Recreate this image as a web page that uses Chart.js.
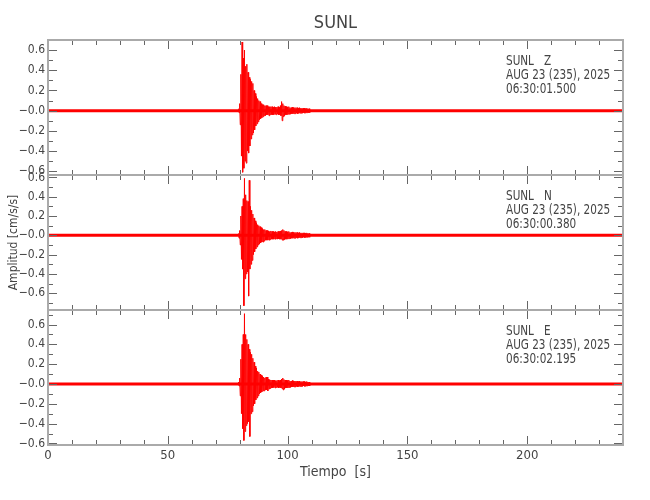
<!DOCTYPE html>
<html>
<head>
<meta charset="utf-8">
<script src="https://cdn.jsdelivr.net/npm/chart.js@4.4.0/dist/chart.umd.min.js"></script>
<style>
    html, body { margin: 0; padding: 0; background: #fff; }
    #wrap { width: 650px; height: 500px; }
</style>
</head>
<body>
<div id="wrap"><canvas id="seisChart"></canvas></div>
<script>
// station / labels
var station = "SUNL";
var components = ["Z", "N", "E"];
var dateLine = "AUG 23 (235), 2025";
var startTimes = ["06:30:01.500", "06:30:00.380", "06:30:02.195"];

// axis ranges (top panel first)
var panelMin = [-0.637, -0.774, -0.616];
var panelMax = [0.70, 0.625, 0.747];
var timeMin = 0;
var timeMax = 240;

var yTickValues = [-0.6, -0.4, -0.2, 0, 0.2, 0.4, 0.6];
var yTickLabels = ["\u22120.6", "\u22120.4", "\u22120.2", "\u22120.0", "0.2", "0.4", "0.6"];

// background noise floor
var baseTimes = [0, 240];
var baseValues = [0, 0];

// event window, one sample every 0.25 s from 79.5 s
var eventStart = 79.5;
var sampleStep = 0.25;

var traceZ = [
    0.02, -0.02, 0.07, -0.14, 0.36, -0.45, 0.68, -0.61,
    0.52, -0.57, 0.6, -0.5, 0.44, -0.52, 0.46, -0.4,
    0.38, -0.42, 0.33, -0.35, 0.31, -0.28, 0.29, -0.24,
    0.27, -0.22, 0.2, -0.19, 0.17, -0.15, 0.14, -0.13,
    0.12, -0.11, 0.1, -0.09, 0.09, -0.08, 0.07, -0.07,
    0.06, -0.06, 0.06, -0.05, 0.05, -0.05, 0.05, -0.04,
    0.05, -0.04, 0.04, -0.05, 0.04, -0.04, 0.04, -0.04,
    0.04, -0.04, 0.035, -0.04, 0.04, -0.035, 0.035, -0.04,
    0.035, -0.035, 0.04, -0.04, 0.035, -0.04, 0.05, -0.05,
    0.09, -0.1, 0.07, -0.06, 0.05, -0.05, 0.045, -0.04,
    0.04, -0.04, 0.035, -0.035, 0.04, -0.035, 0.03, -0.035,
    0.03, -0.03, 0.035, -0.03, 0.03, -0.03, 0.03, -0.03,
    0.03, -0.025, 0.03, -0.03, 0.025, -0.025, 0.03, -0.025,
    0.025, -0.025, 0.025, -0.025, 0.025, -0.02, 0.025, -0.025,
    0.02, -0.02, 0.025, -0.02, 0.02, -0.02, 0.02, -0.02
];

var traceN = [
    0.02, -0.03, 0.05, -0.1, 0.2, -0.25, 0.3, -0.35,
    0.38, -0.73, 0.59, -0.45, 0.42, -0.4, 0.36, -0.38,
    0.35, -0.63, 0.57, -0.35, 0.3, -0.3, 0.26, -0.26,
    0.22, -0.2, 0.18, -0.17, 0.15, -0.14, 0.13, -0.12,
    0.11, -0.1, 0.1, -0.09, 0.09, -0.08, 0.08, -0.07,
    0.07, -0.07, 0.06, -0.06, 0.06, -0.05, 0.05, -0.05,
    0.05, -0.05, 0.045, -0.05, 0.04, -0.045, 0.045, -0.04,
    0.04, -0.04, 0.04, -0.04, 0.035, -0.04, 0.04, -0.035,
    0.035, -0.04, 0.04, -0.035, 0.04, -0.04, 0.045, -0.04,
    0.05, -0.05, 0.06, -0.05, 0.05, -0.045, 0.04, -0.04,
    0.04, -0.04, 0.035, -0.035, 0.04, -0.035, 0.03, -0.035,
    0.03, -0.03, 0.035, -0.03, 0.03, -0.03, 0.03, -0.03,
    0.03, -0.025, 0.03, -0.03, 0.025, -0.025, 0.03, -0.025,
    0.025, -0.025, 0.025, -0.025, 0.025, -0.02, 0.025, -0.025,
    0.02, -0.02, 0.025, -0.02, 0.02, -0.02, 0.02, -0.02
];

var traceE = [
    0.02, -0.02, 0.06, -0.12, 0.25, -0.3, 0.4, -0.45,
    0.5, -0.57, 0.71, -0.48, 0.5, -0.42, 0.45, -0.4,
    0.4, -0.38, 0.35, -0.53, 0.32, -0.3, 0.3, -0.28,
    0.26, -0.22, 0.22, -0.2, 0.18, -0.16, 0.16, -0.14,
    0.13, -0.12, 0.12, -0.1, 0.1, -0.09, 0.09, -0.08,
    0.08, -0.07, 0.07, -0.07, 0.06, -0.06, 0.07, -0.06,
    0.07, -0.07, 0.05, -0.05, 0.045, -0.045, 0.04, -0.04,
    0.04, -0.04, 0.04, -0.035, 0.04, -0.04, 0.035, -0.035,
    0.035, -0.035, 0.04, -0.04, 0.035, -0.035, 0.04, -0.04,
    0.05, -0.05, 0.06, -0.06, 0.045, -0.05, 0.04, -0.04,
    0.04, -0.04, 0.035, -0.035, 0.04, -0.035, 0.03, -0.035,
    0.03, -0.03, 0.035, -0.03, 0.03, -0.03, 0.03, -0.03,
    0.03, -0.025, 0.03, -0.03, 0.025, -0.025, 0.03, -0.025,
    0.025, -0.025, 0.025, -0.025, 0.025, -0.02, 0.025, -0.025,
    0.02, -0.02, 0.025, -0.02, 0.02, -0.02, 0.02, -0.02
];

var FONT = "'Liberation Sans Narrow', 'DejaVu Sans Condensed', sans-serif";
var TEXT_COLOR = "#444";
var panelIds = ["yZ", "yN", "yE"];
var traces = [traceZ, traceN, traceE];

function toPoints(values) {
    return values.map((v, i) => ({ x: eventStart + i * sampleStep, y: v }));
}

function yLabel(value) {
    for (var i = 0; i < yTickValues.length; i++) {
        if (Math.abs(value - yTickValues[i]) < 1e-6) return yTickLabels[i];
    }
    return "";
}

function panelAxis(idx, showTitle) {
    return {
        type: "linear",
        position: "left",
        stack: "panels",
        stackWeight: 1,
        min: panelMin[idx],
        max: panelMax[idx],
        grid: { display: false, drawTicks: false },
        border: { display: false },
        ticks: {
            stepSize: 0.2,
            includeBounds: false,
            autoSkip: false,
            padding: 3,
            color: TEXT_COLOR,
            font: { family: FONT, size: 12 },
            callback: (v) => yLabel(v)
        },
        title: {
            display: showTitle,
            text: "Amplitud [cm/s/s]",
            color: TEXT_COLOR,
            font: { family: FONT, size: 12 },
            padding: { top: 7, bottom: 0 }
        },
        afterFit: (scale) => { scale.width = 48; }
    };
}

// frame, inward ticks and the per-panel station text
const panelFrame = {
    id: "panelFrame",
    afterDatasetsDraw(chart) {
        const ctx = chart.ctx;
        const area = chart.chartArea;
        const xs = chart.scales.x;
        ctx.save();
        panelIds.forEach(function (id) {
            const ys = chart.scales[id];
            const top = ys.top, bottom = ys.bottom, left = area.left, right = area.right;
            ctx.strokeStyle = "#666";
            ctx.lineWidth = 1;
            ctx.beginPath();
            const first = Math.ceil(ys.min * 10 - 1e-6);
            for (let k = first; k / 10 <= ys.max + 1e-9; k++) {
                const py = Math.round(ys.getPixelForValue(k / 10)) + 0.5;
                const len = k % 2 === 0 ? 9 : 5;
                ctx.moveTo(left, py); ctx.lineTo(left + len, py);
                ctx.moveTo(right, py); ctx.lineTo(right - len, py);
            }
            for (let t = timeMin; t <= xs.max; t += 10) {
                const px = Math.round(xs.getPixelForValue(t)) + 0.5;
                const len = t % 50 === 0 ? 9 : 5;
                ctx.moveTo(px, top); ctx.lineTo(px, top + len);
                ctx.moveTo(px, bottom); ctx.lineTo(px, bottom - len);
            }
            ctx.stroke();
            ctx.strokeStyle = "#aaa";
            ctx.lineWidth = 2;
            ctx.strokeRect(left, top, right - left, bottom - top);
        });
        ctx.restore();
    },
    afterDraw(chart) {
        const ctx = chart.ctx;
        ctx.save();
        ctx.fillStyle = TEXT_COLOR;
        ctx.font = "14px " + FONT;
        ctx.textBaseline = "middle";
        // narrow the text like the plotter font
        ctx.translate(506, 0);
        ctx.scale(0.83, 1);
        panelIds.forEach(function (id, i) {
            const ys = chart.scales[id];
            const lines = [station + "   " + components[i], dateLine, startTimes[i]];
            lines.forEach((s, j) => ctx.fillText(s, 0, ys.top + 21.5 + j * 14));
        });
        ctx.restore();
    }
};

var datasets = [];
panelIds.forEach(function (id, i) {
    datasets.push({
        label: "base " + components[i],
        yAxisID: id,
        data: baseTimes.map((t, k) => ({ x: t, y: baseValues[k] })),
        borderColor: "#ff0000",
        borderWidth: 3,
        pointRadius: 0
    });
    datasets.push({
        label: station + " " + components[i],
        yAxisID: id,
        data: toPoints(traces[i]),
        borderColor: "#ff0000",
        borderWidth: 1,
        borderJoinStyle: "bevel",
        pointRadius: 0
    });
});

var scales = {
    x: {
        type: "linear",
        position: "bottom",
        min: timeMin,
        max: timeMax,
        grid: { display: false, drawTicks: false },
        border: { display: false },
        ticks: {
            stepSize: 50,
            includeBounds: false,
            autoSkip: false,
            maxRotation: 0,
            padding: 3,
            color: TEXT_COLOR,
            font: { family: FONT, size: 13 }
        },
        title: {
            display: true,
            text: "Tiempo  [s]",
            color: TEXT_COLOR,
            font: { family: FONT, size: 14 },
            padding: { top: 0, bottom: 19.6 }
        },
        afterFit: (scale) => { scale.height = 55; }
    },
    // defined bottom-up: the last left axis is stacked on top
    yE: panelAxis(2, false),
    yN: panelAxis(1, true),
    yZ: panelAxis(0, false)
};

var seisChart = new Chart(document.getElementById("seisChart"), {
    type: "line",
    data: { datasets: datasets },
    options: {
        responsive: true,
        maintainAspectRatio: false,
        animation: false,
        layout: { padding: { left: 0, right: 27, top: 0, bottom: 0 } },
        scales: scales,
        plugins: {
            legend: { display: false },
            tooltip: { enabled: false },
            title: {
                display: true,
                text: station,
                fullSize: false,
                color: TEXT_COLOR,
                font: { family: FONT, size: 18, weight: "normal" },
                padding: { top: 13, bottom: 5.4 }
            }
        }
    },
    plugins: [panelFrame]
});
</script>
</body>
</html>
